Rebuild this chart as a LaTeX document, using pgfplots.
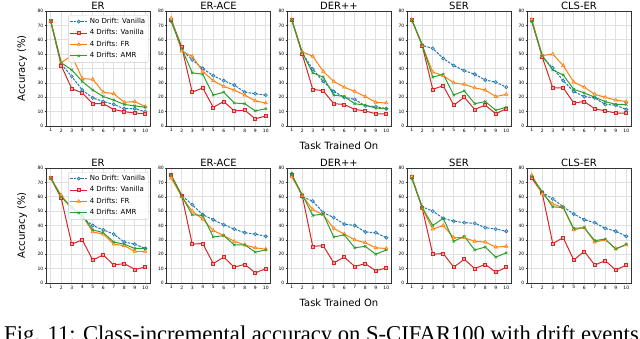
\documentclass[border=0pt]{standalone}
\usepackage{fontspec}
\setmainfont{DejaVu Sans}
\newfontfamily\capfont{Liberation Serif}
\usepackage{pgfplots}
\usepackage{pgfplotstable}
\pgfplotsset{compat=1.18}

\definecolor{tblue}{HTML}{1F77B4}
\definecolor{tred}{HTML}{D62728}
\definecolor{torange}{HTML}{FF7F0E}
\definecolor{tgreen}{HTML}{2CA02C}

% columns: task, no drift vanilla, 4 drifts vanilla, 4 drifts FR, 4 drifts AMR
\pgfplotstableread{
t nd dv fr amr
1 73 73 73 73
2 43 42 44 44
3 34.5 26 49 39
4 25 23 33 31
5 19.5 15.5 32.5 25
6 17 15.5 23.5 20.5
7 15 11.5 22.5 18
8 12 10 16.5 15
9 12 9 17 14
10 10 8.5 13.5 13
}\erA
\pgfplotstableread{
t nd dv fr amr
1 73 74 75 73
2 53 55 52 54
3 46 23.5 48.5 37
4 40 26.5 38 36
5 35 13 31.5 21.5
6 31.5 17 27.5 23.5
7 28.5 10.5 25 16
8 23.5 11 21.5 15.5
9 22.5 5 17.5 10.5
10 21.5 7 16 12
}\eraceA
\pgfplotstableread{
t nd dv fr amr
1 74 74 74 74
2 51 50 51.5 51
3 39.5 25.5 48.5 37
4 31 24.5 38 34
5 24 15.5 31 21.5
6 20 15 27 20.5
7 18.5 11.5 24 15.5
8 14 10.5 20.5 14.5
9 13.5 8.5 16.5 12.5
10 12 8.5 16 12
}\derA
\pgfplotstableread{
t nd dv fr amr
1 74 74 74 74
2 56 56 56 56.5
3 54 25.5 37.5 34
4 47 28 35 36
5 42 14.5 30 21.5
6 38.5 20 29 24.5
7 36 11.5 26.5 15.5
8 32 14.5 25 17
9 30.5 8.5 20.5 11
10 27 12 22 13
}\serA
\pgfplotstableread{
t nd dv fr amr
1 73 74 74 73
2 48 48 49 49
3 40.5 26.5 50 39
4 31.5 26.5 42 35.5
5 24 16 30.5 25.5
6 20.5 17 27 23
7 19.5 12 22 20
8 15 10.5 20 17
9 14.5 9 18 15
10 11.5 9 17 15
}\clsA
\pgfplotstableread{
t nd dv fr amr
1 73 73 73 73
2 60 59 61 60
3 53 27 52 52
4 45.5 30 47 47
5 40 16 35.5 37
6 37 19.5 34 35
7 34 12.5 27 28.5
8 28.5 13.5 26 27
9 27 9.5 22 24
10 24 11 22 24
}\erB
\pgfplotstableread{
t nd dv fr amr
1 74 75 73 75
2 61 61 60 60.5
3 54.5 27 50 47.5
4 47.5 27.5 44.5 47
5 44 13.5 36.5 32
6 40.5 18 33 33
7 37.5 11 29 26.5
8 35 13 26.5 26.5
9 34 7 24.5 21.5
10 32.5 10 23.5 23
}\eraceB
\pgfplotstableread{
t nd dv fr amr
1 76 75 74 75
2 60 61 61 61.5
3 57 25.5 51 47
4 49 26 47.5 48
5 45.5 14 38 32
6 41 18 34 33.5
7 40 11.5 30 24.5
8 35.5 13.5 28 25.5
9 35 8.5 24.5 20
10 31.5 10.5 24 23
}\derB
\pgfplotstableread{
t nd dv fr amr
1 73 74 74 73
2 53 52 52 52.5
3 50 20 37.5 40
4 45 20.5 40 45
5 43 11 31.5 29
6 42 16.5 31.5 32.5
7 41.5 10 29 23
8 38.5 13 28.5 25
9 37.5 7.5 25 18
10 36 11 25.5 21
}\serB
\pgfplotstableread{
t nd dv fr amr
1 74 73 75 74
2 63 62.5 62 63.5
3 58.5 27.5 55 53
4 53 31.5 52.5 52.5
5 48 16 37 38
6 44 22 38.5 38.5
7 42 12.5 28.5 29.5
8 38 15.5 30 30.5
9 36 9 24 23.5
10 32.5 12.5 26.5 27
}\clsB

\pgfplotsset{
  every axis title/.style={at={(0.5,1)}, anchor=base, inner sep=0pt, yshift=1.8pt,
    font=\fontsize{10}{12}\selectfont},
  sub/.style={
    anchor=south west,
    scale only axis, width=104pt, height=115pt,
    xmin=0.55, xmax=10.45, ymin=0, ymax=80,
    xtick={1,...,10}, ytick={0,10,...,80},
    xtick pos=bottom, ytick pos=left,
    grid=major, major grid style={draw=black!12, line width=0.6pt},
    axis line style={draw=black!80, line width=0.6pt},
    tick align=outside, major tick length=1.5pt,
    tick style={black!80, line width=0.4pt},
    ticklabel style={font=\fontsize{4.5}{5}\selectfont, inner sep=1pt},
    /pgf/number format/assume math mode=true,
    xlabel style={font=\fontsize{10}{12}\selectfont, at={(axis description cs:0.5,-0.175)}, anchor=center},
    ylabel style={font=\fontsize{10}{12}\selectfont, at={(axis description cs:-0.23,0.5)}, anchor=center},
    legend style={font=\fontsize{7}{8}\selectfont, at={(0.985,0.965)}, anchor=north east,
      draw=black!20, fill=white, fill opacity=0.85, text opacity=1, rounded corners=1pt,
      inner sep=1pt, row sep=0.6pt},
    legend cell align=left,
  },
  nd/.style={tblue, line width=1pt, dash pattern=on 2.5pt off 1.2pt, mark=*, mark size=1.6pt,
    mark options={solid, fill=tblue!45, draw=tblue, line width=0.6pt}},
  dv/.style={tred, line width=1pt, mark=square*, mark size=1.5pt,
    mark options={fill=tred!45, draw=tred, line width=0.6pt}},
  fr/.style={torange, line width=1pt, mark=triangle*, mark size=1.9pt,
    mark options={fill=torange!45, draw=torange, line width=0.6pt}},
  amr/.style={tgreen, line width=1pt, mark=x, mark size=1.7pt,
    mark options={draw=tgreen, line width=0.7pt}},
}

\newcommand{\series}[1]{%
  \addplot[nd] table[x=t,y=nd]{#1};
  \addplot[dv] table[x=t,y=dv]{#1};
  \addplot[fr] table[x=t,y=fr]{#1};
  \addplot[amr] table[x=t,y=amr]{#1};
}

\begin{document}
\begin{tikzpicture}[x=1pt,y=1pt]
\path[use as bounding box] (0,0) rectangle (640,339);

% top row
\begin{axis}[sub, at={(46pt,213pt)}, title={ER}, ylabel={Accuracy (\%)}]
\series{\erA}
\legend{No Drift: Vanilla, 4 Drifts: Vanilla, 4 Drifts: FR, 4 Drifts: AMR}
\end{axis}
\begin{axis}[sub, at={(166.5pt,213pt)}, title={ER-ACE}]
\series{\eraceA}
\end{axis}
\begin{axis}[sub, at={(287pt,213pt)}, title={DER++}, xlabel={Task Trained On}]
\series{\derA}
\end{axis}
\begin{axis}[sub, at={(407pt,213pt)}, title={SER}]
\series{\serA}
\end{axis}
\begin{axis}[sub, at={(527pt,213pt)}, title={CLS-ER}]
\series{\clsA}
\end{axis}

% bottom row
\begin{axis}[sub, at={(46pt,56pt)}, title={ER}, ylabel={Accuracy (\%)}]
\series{\erB}
\legend{No Drift: Vanilla, 4 Drifts: Vanilla, 4 Drifts: FR, 4 Drifts: AMR}
\end{axis}
\begin{axis}[sub, at={(166.5pt,56pt)}, title={ER-ACE}]
\series{\eraceB}
\end{axis}
\begin{axis}[sub, at={(287pt,56pt)}, title={DER++}, xlabel={Task Trained On}]
\series{\derB}
\end{axis}
\begin{axis}[sub, at={(407pt,56pt)}, title={SER}]
\series{\serB}
\end{axis}
\begin{axis}[sub, at={(527pt,56pt)}, title={CLS-ER}]
\series{\clsB}
\end{axis}

% caption, cut off by the lower edge as in the reference
\begin{scope}
\clip (0,0) rectangle (640,339);
\node[anchor=base west, inner sep=0pt, font=\capfont\fontsize{22.6}{26}\selectfont]
  at (4,-3) {Fig. 11: Class-incremental accuracy on S-CIFAR100 with drift events};
\end{scope}
\end{tikzpicture}
\end{document}
